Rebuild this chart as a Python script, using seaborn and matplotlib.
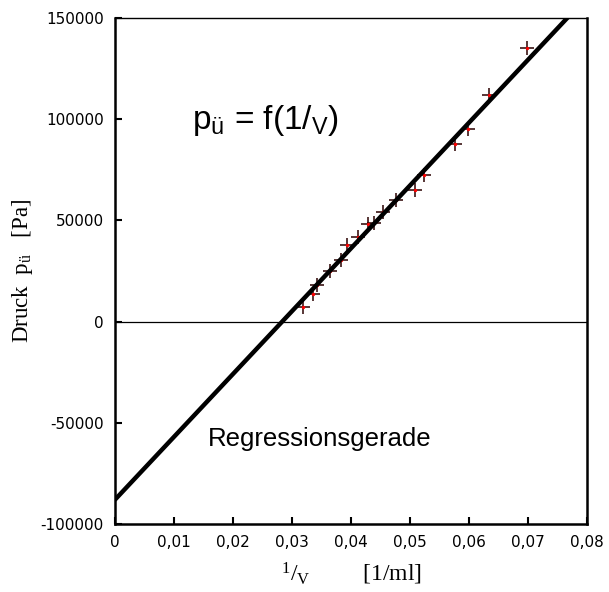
import numpy as np
import pandas as pd
import matplotlib
matplotlib.use("Agg")
import matplotlib.pyplot as plt
import seaborn as sns

# --- data ---
inv_volume = [0.0318, 0.0336, 0.0343, 0.0364, 0.0383, 0.0394, 0.0412, 0.0429,
              0.0439, 0.0455, 0.0477, 0.0508, 0.0523, 0.0576, 0.0599, 0.0634,
              0.0698]
pressure = [7100, 13700, 18300, 25200, 30600, 37900, 42000, 48300,
            48800, 54000, 60100, 64800, 72600, 87800, 95200, 112000,
            135200]

reg_slope = 3.105e6      # Pa per (1/ml)
reg_intercept = -88000   # Pa

x_ticks = [0, 0.01, 0.02, 0.03, 0.04, 0.05, 0.06, 0.07, 0.08]
x_tick_labels = ["0", "0,01", "0,02", "0,03", "0,04", "0,05", "0,06", "0,07", "0,08"]
y_ticks = [-100000, -50000, 0, 50000, 100000, 150000]

df = pd.DataFrame({"x": inv_volume, "p": pressure})
reg_x = np.array([0, 0.08])
reg_df = pd.DataFrame({"x": reg_x, "p": reg_intercept + reg_slope * reg_x})

sns.set_style("ticks")
plt.rcParams["mathtext.fontset"] = "custom"
plt.rcParams["mathtext.rm"] = "Liberation Sans"
plt.rcParams["text.color"] = "black"
plt.rcParams["axes.labelcolor"] = "black"
plt.rcParams["xtick.color"] = "black"
plt.rcParams["ytick.color"] = "black"

fig = plt.figure(figsize=(6.09, 5.92), dpi=100)
ax = fig.add_axes([0.1888, 0.1149, 0.7751, 0.8547])

ax.axhline(0, color="black", lw=0.9, zorder=1)

sns.scatterplot(data=df, x="x", y="p", marker="+", s=110, color="#2a0000",
                linewidth=1.1, ax=ax, zorder=2)
ax.scatter(df["x"], df["p"], s=2, color="red", zorder=2.5)
sns.lineplot(data=reg_df, x="x", y="p", color="black", lw=3.2, ax=ax, zorder=3)

ax.set_xlim(0, 0.08)
ax.set_ylim(-100000, 150000)
ax.set_xticks(x_ticks)
ax.set_xticklabels(x_tick_labels)
ax.set_yticks(y_ticks)
ax.set_yticklabels([str(v) for v in y_ticks])
ax.tick_params(direction="in", length=5, width=1.5, labelsize=11, pad=8,
               colors="black")
for lbl in ax.get_xticklabels() + ax.get_yticklabels():
    lbl.set_family("DejaVu Sans")

for side in ["left", "bottom", "right"]:
    ax.spines[side].set_linewidth(1.8)
ax.spines["top"].set_linewidth(1.0)
for s in ax.spines.values():
    s.set_color("black")

ax.set_xlabel(r"$\mathregular{^{1}/_{V}}$         [1/ml]", family="Liberation Serif",
              fontsize=17, labelpad=8, color="black")
ax.set_ylabel(r"Druck  $\mathregular{p_{ü}}$   [Pa]", family="Liberation Serif",
              fontsize=16.5, labelpad=4, color="black")

ax.text(0.0130, 95000, r"$\mathregular{p_{ü}}$ = f(1/$_{\mathregular{V}}$)",
        family="Liberation Sans", fontsize=24, va="baseline", color="black")
ax.text(0.0158, -61300, "Regressionsgerade", family="Liberation Sans",
        fontsize=18.5, va="baseline", color="black")

fig.savefig("out.png", dpi=100)
